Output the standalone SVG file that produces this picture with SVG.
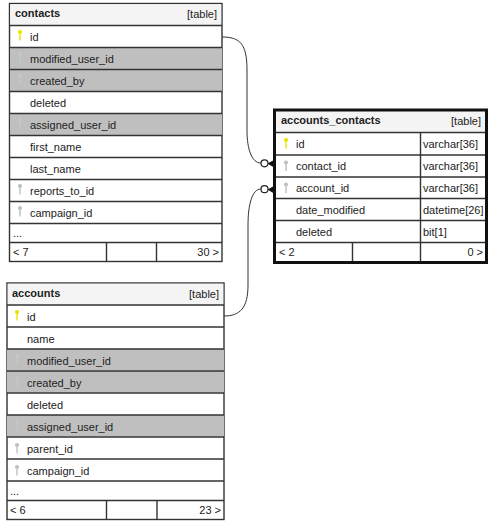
<svg xmlns="http://www.w3.org/2000/svg" width="494" height="525" viewBox="0 0 494 525">
<style>
text{font-family:"Liberation Sans",Arial,sans-serif;font-size:11px;fill:#222}
.t{font-weight:bold}
.r{text-anchor:end}
.box{fill:#fff;stroke:#333;stroke-width:1.4}
.hd{fill:#f4f4f4}
.g{fill:#bfbfbf}
.l{stroke:#333;stroke-width:1.4;fill:none}
.thick{fill:none;stroke:#111;stroke-width:3}
.c{fill:none;stroke:#333;stroke-width:1}
.o{fill:#fff;stroke:#222;stroke-width:1.2}
.pk{fill:#e6e600}
.fk{fill:#c0c0c0}
.fg{fill:#c6c6c6}
</style>
<defs>
<g id="key"><circle cx="0" cy="-3" r="2.100"/><rect x="-.7" y="-2" width="1.400" height="7.500"/></g>
</defs>
<g id="conn">
<path class="c" d="M222 37C240 37 247 44 247 70V130C247 150 252 163 261 163"/>
<path class="c" d="M224 316C240 316 248 308 248 285V225C248 205 252 189 261 189"/>
<path d="M267.500 163.500L274 160V167.500Z" fill="#111"/>
<path d="M267.500 189.500L274 186V193.500Z" fill="#111"/>
<circle class="o" cx="264.500" cy="163.300" r="3.500"/>
<circle class="o" cx="264.500" cy="189.200" r="3.500"/>
</g>
<g id="contacts">
<rect class="box" x="9.500" y="3.500" width="212.500" height="258"/>
<rect class="hd" x="10.200" y="4.200" width="211" height="21"/>
<rect class="g" x="10" y="48" width="212" height="21.500"/>
<rect class="g" x="10" y="70" width="212" height="21.500"/>
<rect class="g" x="10" y="114" width="212" height="21.500"/>
<path class="l" d="M10 25.500H222M10 47.500H222M10 69.500H222M10 91.500H222M10 113.500H222M10 135.500H222M10 157.500H222M10 179.500H222M10 201.500H222M10 223.500H222M10 242.500H222M106.500 242.500V261.500M156.500 242.500V261.500"/>
<use href="#key" class="pk" x="20" y="35"/><use href="#key" class="fg" x="20" y="57"/><use href="#key" class="fg" x="20" y="79"/><use href="#key" class="fg" x="20" y="123"/><use href="#key" class="fk" x="20" y="189"/><use href="#key" class="fk" x="20" y="211"/>
<text class="t" x="15" y="17">contacts</text><text class="r" x="217" y="18">[table]</text>
<text x="30" y="40.500">id</text><text x="30" y="63">modified_user_id</text><text x="30" y="85">created_by</text><text x="30" y="107">deleted</text><text x="30" y="129">assigned_user_id</text><text x="30" y="151">first_name</text><text x="30" y="173">last_name</text><text x="30" y="195">reports_to_id</text><text x="30" y="217">campaign_id</text><text x="13" y="237">...</text><text x="13" y="256">&lt; 7</text><text class="r" x="219" y="256">30 &gt;</text>
</g>
<g id="accounts">
<rect class="box" x="7" y="283" width="217" height="236.500"/>
<rect class="hd" x="7.700" y="283.700" width="215.600" height="21"/>
<rect class="g" x="7" y="349" width="217" height="21.500"/>
<rect class="g" x="7" y="371" width="217" height="21.500"/>
<rect class="g" x="7" y="415" width="217" height="21.500"/>
<path class="l" d="M7 305H224M7 327H224M7 349H224M7 371H224M7 393H224M7 415H224M7 437H224M7 459H224M7 481H224M7 500.500H224M106.500 500.500V519.500M157 500.500V519.500"/>
<use href="#key" class="pk" x="17" y="315"/><use href="#key" class="fg" x="17" y="359"/><use href="#key" class="fg" x="17" y="381"/><use href="#key" class="fg" x="17" y="425"/><use href="#key" class="fk" x="17" y="448"/><use href="#key" class="fk" x="17" y="470"/>
<text class="t" x="12" y="297">accounts</text><text class="r" x="219" y="298">[table]</text>
<text x="27" y="320.500">id</text><text x="27" y="342.500">name</text><text x="27" y="364.500">modified_user_id</text><text x="27" y="386.500">created_by</text><text x="27" y="408.500">deleted</text><text x="27" y="430.500">assigned_user_id</text><text x="27" y="452.500">parent_id</text><text x="27" y="474.500">campaign_id</text><text x="10" y="495">...</text><text x="10" y="513.500">&lt; 6</text><text class="r" x="221" y="513.500">23 &gt;</text>
</g>
<g id="accounts_contacts">
<rect x="274.500" y="110" width="212" height="152" fill="#fff"/>
<rect class="hd" x="275" y="110.500" width="211" height="21"/>
<path class="l" d="M275 132.500H486M275 155H486M275 177H486M275 198.500H486M275 220.500H486M275 242.500H486M420.500 132.500V242.500M352.500 242.500V262M420.500 242.500V262"/>
<rect class="thick" x="274.500" y="110" width="212" height="152.500"/>
<use href="#key" class="pk" x="286" y="143"/><use href="#key" class="fk" x="286" y="165.500"/><use href="#key" class="fk" x="286" y="187.500"/>
<text class="t" x="281" y="124">accounts_contacts</text><text class="r" x="481" y="125">[table]</text>
<text x="296" y="148">id</text><text x="296" y="170">contact_id</text><text x="296" y="192">account_id</text><text x="296" y="214">date_modified</text><text x="296" y="235.500">deleted</text>
<text x="423" y="148">varchar[36]</text><text x="423" y="170">varchar[36]</text><text x="423" y="192">varchar[36]</text><text x="423" y="214">datetime[26]</text><text x="423" y="235.500">bit[1]</text>
<text x="279" y="256">&lt; 2</text><text class="r" x="483" y="256">0 &gt;</text>
</g>
</svg>
